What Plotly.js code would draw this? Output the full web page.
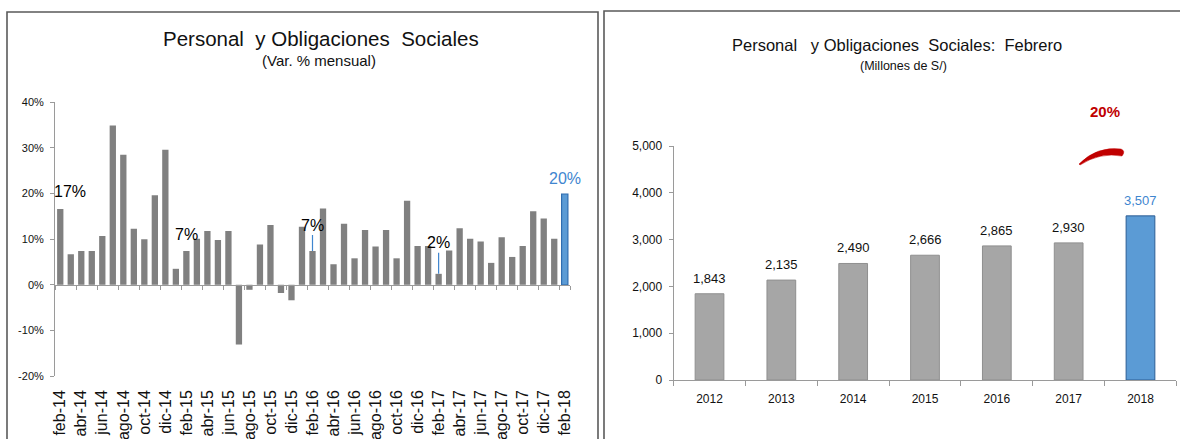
<!DOCTYPE html>
<html><head><meta charset="utf-8">
<script src="https://cdn.plot.ly/plotly-3.0.1.min.js"></script>
<style>html,body{margin:0;padding:0;background:#fff}#chart{width:1180px;height:439px}</style>
</head><body><div id="chart"></div>
<script>
// ---------- data ----------
const months = ['feb-14','mar-14','abr-14','may-14','jun-14','jul-14','ago-14','sep-14','oct-14','nov-14','dic-14','ene-15',
  'feb-15','mar-15','abr-15','may-15','jun-15','jul-15','ago-15','sep-15','oct-15','nov-15','dic-15','ene-16',
  'feb-16','mar-16','abr-16','may-16','jun-16','jul-16','ago-16','sep-16','oct-16','nov-16','dic-16','ene-17',
  'feb-17','mar-17','abr-17','may-17','jun-17','jul-17','ago-17','sep-17','oct-17','nov-17','dic-17','ene-18','feb-18'];
const monthlyVar = [16.6,6.7,7.4,7.4,10.7,34.9,28.5,12.3,10.0,19.6,29.6,3.5,
  7.4,10.1,11.8,9.8,11.8,-13.1,-1.1,8.8,13.1,-1.8,-3.4,12.7,
  7.4,16.7,4.5,13.4,5.8,12.0,8.4,12.0,5.8,18.4,8.5,8.5,
  2.4,7.5,12.4,10.1,9.5,4.8,10.4,6.1,8.5,16.1,14.5,10.1,19.9];
const monthTicks = ['feb-14','abr-14','jun-14','ago-14','oct-14','dic-14','feb-15','abr-15','jun-15','ago-15','oct-15','dic-15',
  'feb-16','abr-16','jun-16','ago-16','oct-16','dic-16','feb-17','abr-17','jun-17','ago-17','oct-17','dic-17','feb-18'];
const labeledMonths = ['feb-14','feb-15','feb-16','feb-17','feb-18'];
const pctTicks = [-20,-10,0,10,20,30,40];

const years = ['2012','2013','2014','2015','2016','2017','2018'];
const febAmount = [1843,2135,2490,2666,2865,2930,3507];
const amountTicks = [0,1000,2000,3000,4000,5000];

// ---------- layout helpers ----------
const W = 1180, H = 439;
const px = x => x / W;
const py = y => 1 - y / H;
const SANS = "'Liberation Sans', Arial, sans-serif";
const GRAY = '#808080', LGRAY = '#a6a6a6', BLUE = '#5b9bd5', BLUE_TXT = '#3f86cf', AXIS = '#9a9a9a';

const leftX = [px(55), px(570)], leftY = [py(376), py(102.3)];
const rightX = [px(673.6), px(1176.4)], rightY = [py(380), py(146)];
const zeroPos = leftY[0] + (0 - (-20)) / 60 * (leftY[1] - leftY[0]);

const lastM = months.length - 1;
const lastY = years.length - 1;

const traces = [
  {type:'bar', x: months, y: monthlyVar, xaxis:'x', yaxis:'y', width:0.6,
   marker:{color: months.map((m,i)=> i===lastM ? BLUE : GRAY),
           line:{color: months.map((m,i)=> i===lastM ? '#2f6db0' : GRAY), width: months.map((m,i)=> i===lastM ? 1.2 : 0)}},
   hoverinfo:'x+y', showlegend:false},
  {type:'scatter', mode:'markers', x: months, y: months.map(()=>0), xaxis:'x3', yaxis:'y',
   marker:{opacity:0}, hoverinfo:'skip', showlegend:false},
  {type:'bar', x: years, y: febAmount, xaxis:'x2', yaxis:'y2', width:0.4,
   marker:{color: years.map((m,i)=> i===lastY ? BLUE : LGRAY),
           line:{color: years.map((m,i)=> i===lastY ? '#2c5d94' : '#8f8f8f'), width: 1}},
   hoverinfo:'x+y', showlegend:false}
];

const annotations = [];
// titles
annotations.push({xref:'paper', yref:'paper', x:px(321), y:py(38), text:'Personal  y Obligaciones  Sociales', showarrow:false,
  font:{family:SANS, size:20.5, color:'#111'}, xanchor:'center', yanchor:'middle'});
annotations.push({xref:'paper', yref:'paper', x:px(319), y:py(61), text:'(Var. % mensual)', showarrow:false,
  font:{family:SANS, size:15, color:'#111'}, xanchor:'center', yanchor:'middle'});
annotations.push({xref:'paper', yref:'paper', x:px(897), y:py(45), text:'Personal   y Obligaciones  Sociales:  Febrero', showarrow:false,
  font:{family:SANS, size:16.5, color:'#111'}, xanchor:'center', yanchor:'middle'});
annotations.push({xref:'paper', yref:'paper', x:px(903), y:py(66), text:'(Millones de S/)', showarrow:false,
  font:{family:SANS, size:12.5, color:'#111'}, xanchor:'center', yanchor:'middle'});

// left value labels (february months)
const lblStyle = {
  'feb-14': {ax: 10, ay: 0, yAt: 20.4, arrow:false},
  'feb-15': {ax: 0, ay: 0, yAt: 11.0, arrow:false},
  'feb-16': {ax: 0, ay: -26, arrow:true},
  'feb-17': {ax: 0, ay: -31, arrow:true},
  'feb-18': {ax: 0, ay: 0, arrow:false, top:true}
};
labeledMonths.forEach(m => {
  const i = months.indexOf(m), v = monthlyVar[i], s = lblStyle[m];
  const txt = Math.round(v) + '%';
  const isLast = i === lastM;
  const font = {family:SANS, size:16, color: isLast ? BLUE_TXT : '#000'};
  if (s.arrow) {
    annotations.push({xref:'x', yref:'y', x:i, y:v, text:txt, showarrow:true, arrowhead:0, arrowwidth:1.2,
      arrowcolor:'#3f86cf', ax:s.ax, ay:s.ay, standoff:0, font});
  } else if (s.top) {
    annotations.push({xref:'x', yref:'y', x:i, y:v, text:txt, showarrow:false, yanchor:'bottom', yshift:5, font});
  } else {
    annotations.push({xref:'x', yref:'y', x:i, y:s.yAt, text:txt, showarrow:false, xshift:s.ax, font});
  }
});

// right data labels (x given as category index)
years.forEach((yr,i) => {
  annotations.push({xref:'x2', yref:'y2', x:i, y:febAmount[i], text:febAmount[i].toLocaleString('en-US'),
    showarrow:false, yanchor:'bottom', yshift:6,
    font:{family:SANS, size:13, color: i===lastY ? BLUE_TXT : '#111'}});
});
// growth label
const growth = Math.round((febAmount[lastY]/febAmount[lastY-1]-1)*100) + '%';
annotations.push({xref:'paper', yref:'paper', x:px(1105), y:py(112), text:'<b>'+growth+'</b>', showarrow:false,
  font:{family:SANS, size:15, color:'#c00000'}, xanchor:'center', yanchor:'middle'});

// swoosh path in paper coords
const P = (x,y) => px(x).toFixed(5)+','+py(y).toFixed(5);
const swoosh = 'M '+P(1079,164)+' Q '+P(1097,146)+' '+P(1121,149)+' Q '+P(1126,151)+' '+P(1122,156)+' Q '+P(1100,152)+' '+P(1080,165)+' Z';

const shapes = [
  {type:'rect', xref:'paper', yref:'paper', x0:px(7), x1:px(598), y0:py(445), y1:py(12), line:{color:'#5a5a5a', width:1.6}},
  {type:'rect', xref:'paper', yref:'paper', x0:px(604), x1:px(1190), y0:py(445), y1:py(11), line:{color:'#5a5a5a', width:1.6}},
  {type:'path', xref:'paper', yref:'paper', path: swoosh, fillcolor:'#c00000', line:{color:'#c00000', width:0.5}}
];

const layout = {
  width:W, height:H, margin:{l:0, r:0, t:0, b:0}, paper_bgcolor:'#fff', plot_bgcolor:'rgba(0,0,0,0)',
  showlegend:false,
  font:{family:SANS, color:'#111'},
  xaxis:{domain:leftX, anchor:'y', type:'category', categoryorder:'array', categoryarray:months, range:[-0.5, lastM+0.5],
    tickmode:'array', tickvals:monthTicks, ticktext:monthTicks, tickangle:-90, ticks:'', showline:false, showgrid:false,
    zeroline:false, ticklabelstandoff:10, tickfont:{family:SANS, size:16, color:'#111'}},
  xaxis3:{overlaying:'x', anchor:'free', position:zeroPos, type:'category', categoryorder:'array', categoryarray:months,
    range:[-0.5, lastM+0.5], tickmode:'array', tickvals:monthTicks, tickson:'boundaries', ticks:'outside', ticklen:4,
    tickcolor:AXIS, showticklabels:false, showline:true, linecolor:AXIS, linewidth:1, showgrid:false, zeroline:false},
  yaxis:{domain:leftY, anchor:'x', range:[-20,40], tickmode:'array', tickvals:pctTicks, ticktext:pctTicks.map(v=>String(v)+'%'),
    ticks:'outside', ticklen:4, tickcolor:AXIS, showline:true, linecolor:AXIS, linewidth:1, showgrid:false, zeroline:false,
    ticklabelstandoff:4, tickfont:{family:SANS, size:11, color:'#111'}},
  xaxis2:{domain:rightX, anchor:'y2', type:'category', categoryorder:'array', categoryarray:years, range:[-0.5, lastY+0.5],
    tickangle:0, ticks:'outside', ticklen:5, tickcolor:AXIS, tickson:'boundaries', showline:true, linecolor:AXIS, linewidth:1,
    showgrid:false, zeroline:false, ticklabelstandoff:8, tickfont:{family:SANS, size:12, color:'#111'}},
  yaxis2:{domain:rightY, anchor:'x2', range:[0,5000], tickmode:'array', tickvals:amountTicks,
    ticktext:amountTicks.map(v=>v.toLocaleString('en-US')), ticks:'outside', ticklen:4, tickcolor:AXIS,
    showline:true, linecolor:AXIS, linewidth:1, showgrid:false, zeroline:false, ticklabelstandoff:4,
    tickfont:{family:SANS, size:12, color:'#111'}},
  annotations, shapes
};

Plotly.newPlot('chart', traces, layout, {displayModeBar:false, staticPlot:true});
</script>
</body></html>
